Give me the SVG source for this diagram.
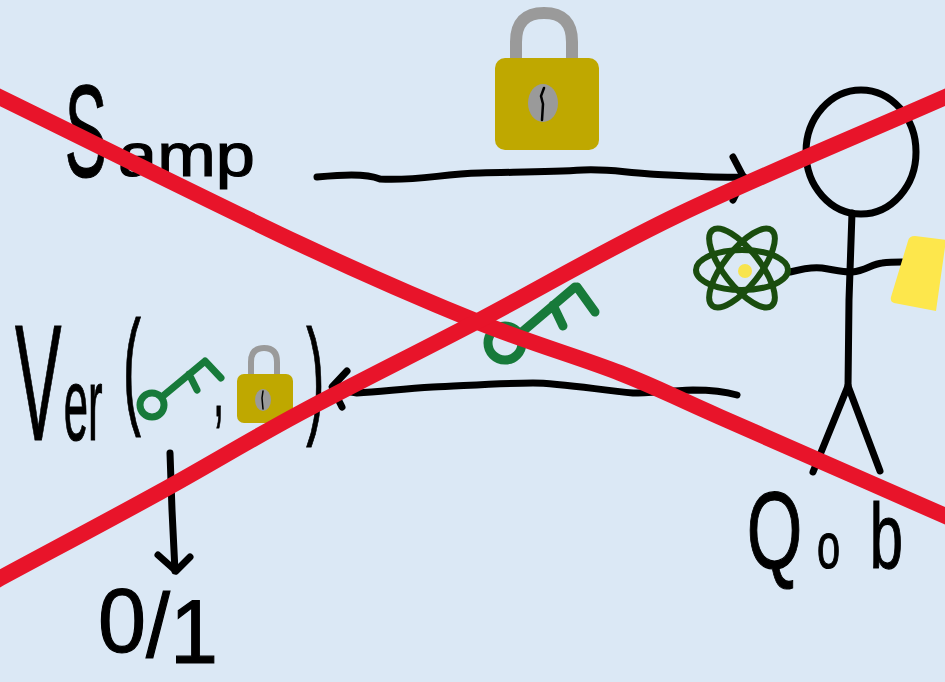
<svg xmlns="http://www.w3.org/2000/svg" width="945" height="682" viewBox="0 0 945 682">
  <style>
    .ink { fill: none; stroke: #000; stroke-width: 7; stroke-linecap: round; stroke-linejoin: round; }
    .hand { font-family: "Liberation Sans", Arial, sans-serif; fill: #000; stroke: #000; stroke-width: 1.2; }
    .key { fill: none; stroke: #177a3a; stroke-linecap: round; stroke-linejoin: round; }
    .shackle { fill: none; stroke: #9a9a9a; stroke-linecap: round; }
    .body { fill: #bfa800; }
    .hole { fill: #9a9a9a; }
    .orbit { fill: none; stroke: #1a4d0e; stroke-width: 6; }
    .cross { fill: none; stroke: #e8142a; stroke-width: 16; stroke-linecap: butt; stroke-linejoin: round; }
  </style>

  <rect width="945" height="682" fill="#dbe8f5"/>

  <!-- sender label: tall narrow capital, wide lower case -->
  <g id="samp">
    <text class="hand" transform="scale(0.48,1)"><tspan x="135" y="177" font-size="132">S</tspan><tspan x="246" y="176" font-size="62" textLength="285" lengthAdjust="spacingAndGlyphs">amp</tspan></text>
  </g>

  <!-- padlock sent to Qob -->
  <g id="lock">
    <path class="shackle" stroke-width="12" d="M516,64 L516,42 Q516,13 544,13 Q572,13 572,42 L572,64"/>
    <rect class="body" x="495" y="58" width="104" height="92" rx="10"/>
    <ellipse class="hole" cx="543" cy="103" rx="15" ry="19"/>
    <path d="M544,88 L541,96 L543,104 L542,120" fill="none" stroke="#000" stroke-width="2.5" stroke-linecap="round"/>
  </g>

  <!-- key returned by Qob -->
  <g id="key-transit">
    <circle class="key" stroke-width="9" cx="505" cy="343" r="17"/>
    <path class="key" stroke-width="9" d="M522,332 L575,287 M553,305 L563,326 M577,287 L595,312"/>
  </g>

  <!-- Qob: stick figure with atom and card -->
  <g id="qob">
    <ellipse class="ink" cx="861" cy="152" rx="55" ry="62"/>
    <path class="ink" d="M852,213 L849,300 L848,388"/>
    <path class="ink" d="M848,386 L813,472 M848,386 L880,471"/>
    <path class="ink" d="M790,272 C805,268 815,267 822,268 C835,270 842,272 852,272 C865,271 872,264 882,263 C890,262 896,262 902,262"/>
    <!-- narrow handwriting: whole label squeezed horizontally -->
    <text class="hand" transform="scale(0.65,1)"><tspan x="1149" y="568" font-size="110">Q</tspan><tspan x="1257" y="568" font-size="64">o</tspan><tspan x="1338" y="568" font-size="92">b</tspan></text>
  </g>

  <g id="atom">
    <ellipse class="orbit" cx="742" cy="270" rx="46" ry="20"/>
    <ellipse class="orbit" cx="742" cy="268" rx="48" ry="18" transform="rotate(52 742 268)"/>
    <ellipse class="orbit" cx="742" cy="268" rx="48" ry="18" transform="rotate(-52 742 268)"/>
    <circle cx="745" cy="271" r="7" fill="#f8e44e"/>
  </g>

  <g id="card">
    <path d="M915,236 L946,240 L936,311 L894,303 Q890,302 891,297 L908,241 Q909,236 915,236 Z" fill="#fde74c"/>
  </g>

  <!-- verifier -->
  <g id="verifier">
    <text class="hand" transform="scale(0.42,1)"><tspan x="36" y="440" font-size="166">V</tspan><tspan x="152" y="440" font-size="104">er</tspan><tspan x="293" y="410" font-size="128">(</tspan><tspan x="508" y="416" font-size="92">,</tspan><tspan x="729" y="420" font-size="130">)</tspan></text>
    <circle class="key" stroke-width="7" cx="152" cy="405" r="12"/>
    <path class="key" stroke-width="7" d="M163,396 L204,362 M189,374 L197,390 M205,361 L221,378"/>
    <path class="shackle" stroke-width="6" d="M251,378 L251,362 Q251,348 264,348 Q277,348 277,362 L277,378"/>
    <rect class="body" x="237" y="374" width="56" height="49" rx="7"/>
    <ellipse class="hole" cx="263" cy="400" rx="8" ry="11"/>
    <path d="M263,391 L262,398 L263,409" fill="none" stroke="#000" stroke-width="1.5" stroke-linecap="round"/>
  </g>

  <g id="result">
    <text class="hand" x="98" y="652" dy="0 5 6" font-size="90" textLength="120" lengthAdjust="spacingAndGlyphs">0/1</text>
  </g>

  <!-- connectors -->
  <g id="connectors">
    <path class="ink" d="M317,177 C340,175 365,173 380,179 C420,181 440,174 480,173 C520,172 550,172 583,170 C610,169 620,172 650,174 C690,176 720,178 744,177"/>
    <path class="ink" d="M733,157 L744,178 L733,200"/>
    <path class="ink" d="M737,395 C720,390 700,390 693,390 C665,391 650,393 633,393 C600,390 560,383 533,383 C500,383 460,386 433,387 C400,389 380,392 357,393 L334,389"/>
    <path class="ink" d="M347,371 L332,387 L342,407"/>
    <path class="ink" d="M170,453 L172,510 L175,571"/>
    <path class="ink" d="M158,555 L176,571 L190,557"/>
  </g>

  <!-- strike-through -->
  <g id="cross">
    <path class="cross" d="M-5,95 C96.7,144.7 219.5,206.2 300,244 C380.5,281.8 424.7,300.5 478,322 C531.3,343.5 579.7,357.2 620,373 C660.3,388.8 665,392.8 720,417 C775,441.2 873.3,484.3 950,518"/>
    <path class="cross" d="M-5,581 C50,551.3 109.2,520 160,492 C210.8,464 247,441.5 300,413 C353,384.5 414.7,354.2 478,321 C541.3,287.8 601.3,251.7 680,214 C758.7,176.3 860,134.7 950,95"/>
  </g>
</svg>
